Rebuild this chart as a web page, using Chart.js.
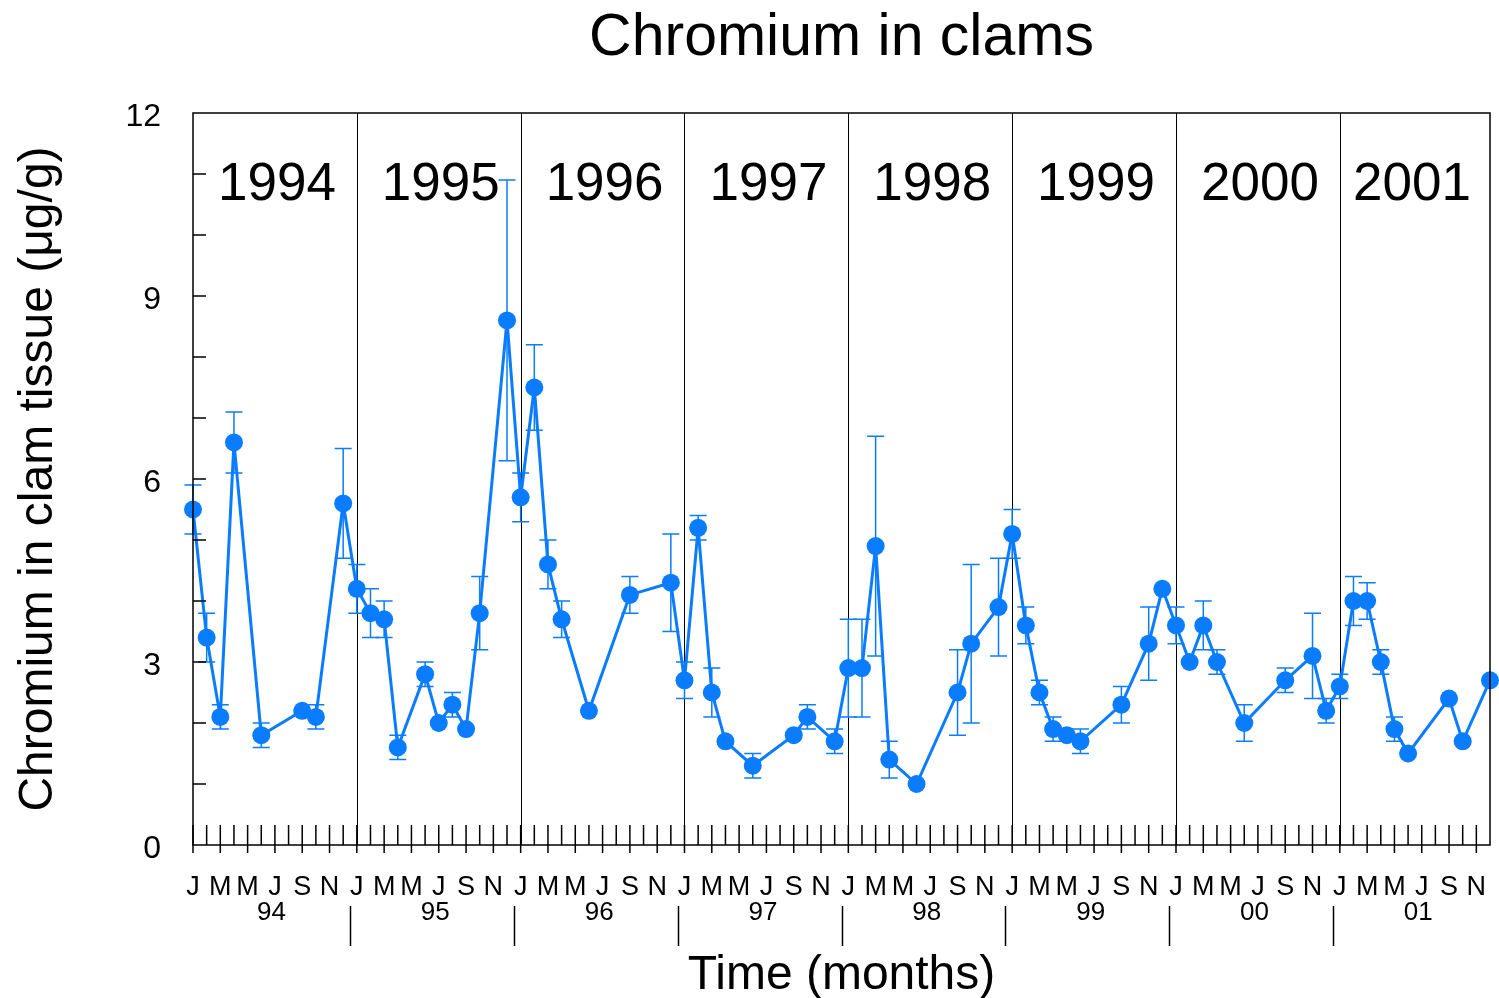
<!DOCTYPE html>
<html>
<head>
<meta charset="utf-8">
<title>Chromium in clams</title>
<script src="https://cdn.jsdelivr.net/npm/chart.js@4.4.1/dist/chart.umd.min.js"></script>
<style>
    body { margin: 0; background: #ffffff; }
    canvas { display: block; }
</style>
</head>
<body>
<canvas id="clamChart" width="1499" height="998"></canvas>
<script>
// Sampling months, counted from January 1994 (0) to December 2001 (95)
const months = [
    0, 1, 2, 3, 5, 8, 9, 11,
    12, 13, 14, 15, 17, 18, 19, 20, 21, 23,
    24, 25, 26, 27, 29, 32, 35,
    36, 37, 38, 39, 41, 44, 45, 47,
    48, 49, 50, 51, 53, 56, 57, 59,
    60, 61, 62, 63, 64, 65, 68, 70, 71,
    72, 73, 74, 75, 77, 80, 82, 83,
    84, 85, 86, 87, 88, 89, 92, 93, 95
];

// Chromium concentration (ug/g)
const chromium = [
    5.5, 3.4, 2.1, 6.6, 1.8, 2.2, 2.1, 5.6,
    4.2, 3.8, 3.7, 1.6, 2.8, 2.0, 2.3, 1.9, 3.8, 8.6,
    5.7, 7.5, 4.6, 3.7, 2.2, 4.1, 4.3,
    2.7, 5.2, 2.5, 1.7, 1.3, 1.8, 2.1, 1.7,
    2.9, 2.9, 4.9, 1.4, 1.0, 2.5, 3.3, 3.9,
    5.1, 3.6, 2.5, 1.9, 1.8, 1.7, 2.3, 3.3, 4.2,
    3.6, 3.0, 3.6, 3.0, 2.0, 2.7, 3.1, 2.2,
    2.6, 4.0, 4.0, 3.0, 1.9, 1.5, 2.4, 1.7, 2.7
];

// Error bar half-widths
const errors = [
    0.4, 0.4, 0.2, 0.5, 0.2, 0, 0.2, 0.9,
    0.4, 0.4, 0.3, 0.2, 0.2, 0, 0.2, 0, 0.6, 2.3,
    0.4, 0.7, 0.4, 0.3, 0, 0.3, 0.8,
    0.3, 0.2, 0.4, 0, 0.2, 0, 0.2, 0.2,
    0.8, 0.8, 1.8, 0.3, 0, 0.7, 1.3, 0.8,
    0.4, 0.3, 0.2, 0.2, 0, 0.2, 0.3, 0.6, 0,
    0.3, 0, 0.4, 0.2, 0.3, 0.2, 0.7, 0.2,
    0.2, 0.4, 0.3, 0.2, 0.2, 0, 0, 0, 0
];

const years = ['1994', '1995', '1996', '1997', '1998', '1999', '2000', '2001'];
const yearShort = ['94', '95', '96', '97', '98', '99', '00', '01'];
const monthLetters = ['J', 'M', 'M', 'J', 'S', 'N'];
const yTickLabels = [0, 3, 6, 9, 12];

const BLUE = '#0A7CFF';
const FONT = "'Liberation Sans', Arial, Helvetica, sans-serif";

// Error bars and year dividers, drawn under the points
const errorBarPlugin = {
    id: 'errorBars',
    beforeDatasetsDraw(chart) {
        const { ctx, chartArea, scales: { x, y } } = chart;
        ctx.save();

        // year dividers
        ctx.strokeStyle = '#000';
        ctx.lineWidth = 1;
        for (let k = 1; k < years.length; k++) {
            const px = Math.round(x.getPixelForValue(k * 12)) + 0.5;
            ctx.beginPath();
            ctx.moveTo(px, chartArea.top);
            ctx.lineTo(px, chartArea.bottom);
            ctx.stroke();
        }

        ctx.strokeStyle = BLUE;
        ctx.lineWidth = 1.5;
        months.forEach((m, i) => {
            if (!errors[i]) return;
            const px = x.getPixelForValue(m);
            const top = y.getPixelForValue(chromium[i] + errors[i]);
            const bot = y.getPixelForValue(chromium[i] - errors[i]);
            ctx.beginPath();
            ctx.moveTo(px, top);
            ctx.lineTo(px, bot);
            ctx.moveTo(px - 8.5, top);
            ctx.lineTo(px + 8.5, top);
            ctx.moveTo(px - 8.5, bot);
            ctx.lineTo(px + 8.5, bot);
            ctx.stroke();
        });
        ctx.restore();
    }
};

// Frame, inward ticks and all labels
const framePlugin = {
    id: 'frame',
    afterDraw(chart) {
        const { ctx, chartArea: a, scales: { x, y } } = chart;
        ctx.save();
        ctx.strokeStyle = '#000';
        ctx.fillStyle = '#000';
        ctx.lineWidth = 1.5;
        ctx.strokeRect(a.left, a.top, a.right - a.left, a.bottom - a.top);

        // y ticks, one per unit
        ctx.beginPath();
        for (let v = 1; v < 12; v++) {
            const py = y.getPixelForValue(v);
            ctx.moveTo(a.left, py);
            ctx.lineTo(a.left + 13, py);
        }
        // x ticks, one per month, labelled months run below the axis
        for (let m = 0; m < 95; m++) {
            const px = x.getPixelForValue(m);
            ctx.moveTo(px, a.bottom - 20);
            ctx.lineTo(px, m % 2 === 0 ? a.bottom + 8 : a.bottom);
        }
        ctx.stroke();

        // y tick labels
        ctx.font = `32px ${FONT}`;
        ctx.textAlign = 'right';
        ctx.textBaseline = 'alphabetic';
        yTickLabels.forEach(v => {
            ctx.fillText(String(v), a.left - 32, y.getPixelForValue(v) + 13);
        });

        // month letters
        ctx.font = `27px ${FONT}`;
        ctx.textAlign = 'center';
        for (let m = 0; m < 95; m += 2) {
            ctx.fillText(monthLetters[(m % 12) / 2], x.getPixelForValue(m), 895);
        }

        // two digit years and separators
        ctx.font = `26px ${FONT}`;
        yearShort.forEach((label, k) => {
            ctx.fillText(label, x.getPixelForValue(k * 12 + 5.75), 920);
        });
        ctx.lineWidth = 1.5;
        ctx.beginPath();
        for (let k = 1; k < years.length; k++) {
            const px = Math.round(x.getPixelForValue(k * 12 - 0.5)) + 0.5;
            ctx.moveTo(px, 906);
            ctx.lineTo(px, 946);
        }
        ctx.stroke();

        // year names inside the plot
        ctx.font = `53px ${FONT}`;
        years.forEach((label, k) => {
            const start = k * 12;
            const end = Math.min(start + 12, x.max);
            const shift = end - start < 12 ? -3 : 2;
            ctx.fillText(label, x.getPixelForValue((start + end) / 2) + shift, 200);
        });

        // titles
        const mid = (a.left + a.right) / 2;
        ctx.font = `59px ${FONT}`;
        ctx.fillText('Chromium in clams', mid, 55);
        ctx.font = `48px ${FONT}`;
        ctx.fillText('Time (months)', mid, 989);

        ctx.translate(52, (a.top + a.bottom) / 2);
        ctx.rotate(-Math.PI / 2);
        ctx.font = `48px ${FONT}`;
        ctx.fillText('Chromium in clam tissue (\u03bcg/g)', 0, 0);
        ctx.restore();
    }
};

document.addEventListener('DOMContentLoaded', () => {
    const ctx = document.getElementById('clamChart').getContext('2d');
    new Chart(ctx, {
        type: 'line',
        data: {
            datasets: [{
                data: months.map((m, i) => ({ x: m, y: chromium[i] })),
                borderColor: BLUE,
                backgroundColor: BLUE,
                borderWidth: 3,
                pointRadius: 9,
                pointBorderWidth: 0,
                pointBackgroundColor: BLUE,
                tension: 0,
                clip: false
            }]
        },
        options: {
            responsive: false,
            animation: false,
            devicePixelRatio: 1,
            layout: {
                padding: { left: 193, right: 7, top: 113, bottom: 153 }
            },
            plugins: {
                legend: { display: false },
                title: { display: false },
                tooltip: { enabled: false }
            },
            scales: {
                x: { type: 'linear', min: 0, max: 95, display: false },
                y: { min: 0, max: 12, display: false }
            }
        },
        plugins: [errorBarPlugin, framePlugin]
    });
});
</script>
</body>
</html>
